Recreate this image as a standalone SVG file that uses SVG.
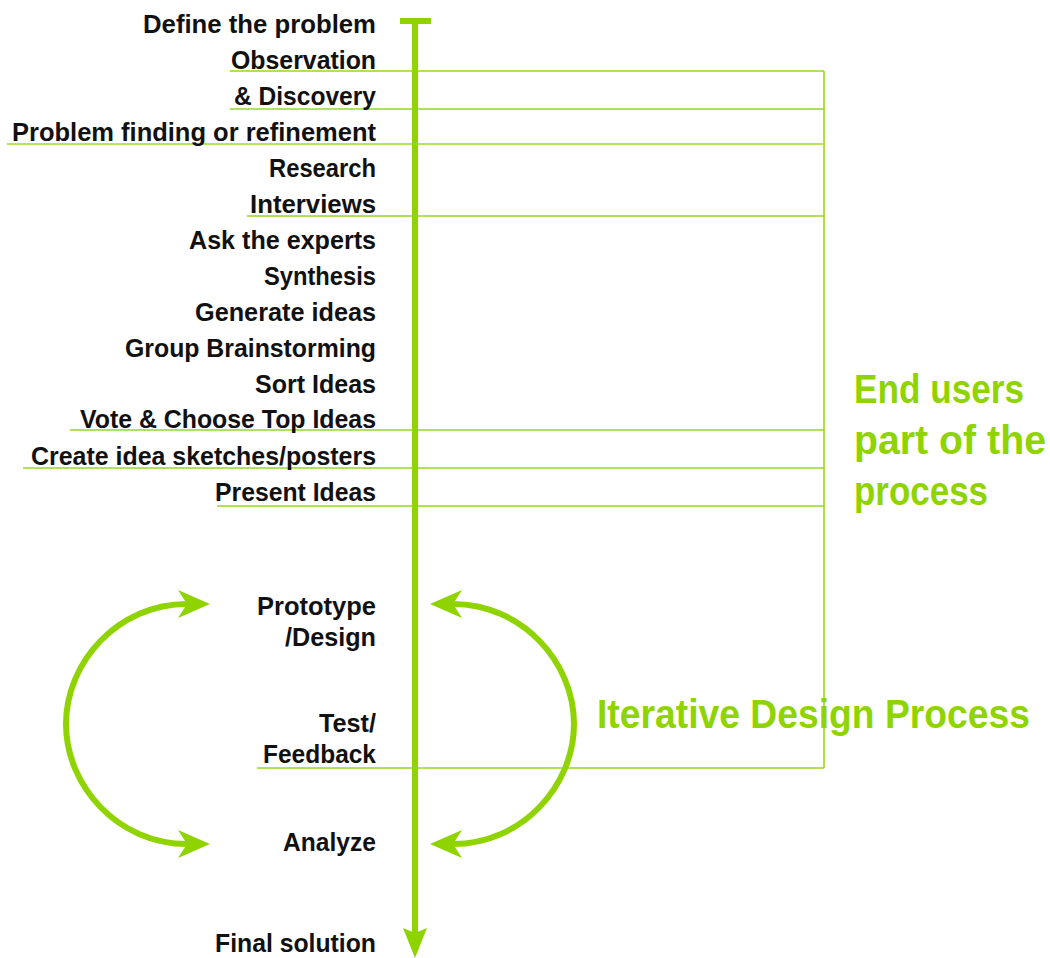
<svg xmlns="http://www.w3.org/2000/svg" width="1050" height="958" viewBox="0 0 1050 958">
<style>
.lbl{font-family:"Liberation Sans",Arial,sans-serif;font-weight:bold;font-size:26px;fill:#111;text-anchor:end}
.big{font-family:"Liberation Sans",Arial,sans-serif;font-weight:bold;font-size:40px;fill:#8fd400}
.thin{stroke:#96d91c;stroke-width:1.6;fill:none}
.thick{stroke:#8fd400;stroke-width:6;fill:none}
</style>
<defs>
<marker id="ah" markerUnits="userSpaceOnUse" markerWidth="40" markerHeight="40" viewBox="-2 -16 40 32" refX="9" refY="0" orient="auto-start-reverse">
<path d="M0,-14 L32,0 L0,14 L9,0 Z" fill="#8fd400"/>
</marker>
<marker id="ahMain" markerUnits="userSpaceOnUse" markerWidth="40" markerHeight="40" viewBox="-2 -16 40 32" refX="5" refY="0" orient="auto">
<path d="M0,-12 L30,0 L0,12 L5,0 Z" fill="#8fd400"/>
</marker>
</defs>
<g id="connectors">
<path class="thin" d="M824 71 V768"/>
<path class="thin" d="M230 71 H824"/>
<path class="thin" d="M230 109 H824"/>
<path class="thin" d="M7 144 H824" style="stroke:#b3e658;stroke-width:2.2"/>
<path class="thin" d="M247 216 H824"/>
<path class="thin" d="M70 430 H824"/>
<path class="thin" d="M23 468 H824"/>
<path class="thin" d="M217 506 H824"/>
<path class="thin" d="M257 768 H824"/>
<path class="thick" d="M400 21 H431"/>
<path class="thick" d="M415 21 V933" marker-end="url(#ahMain)"/>
<path class="thick" d="M187 604 C118 604 66 662 66 724 C66 786 118 844 187 844" marker-start="url(#ah)" marker-end="url(#ah)"/>
<path class="thick" d="M453 604 C522 604 574 662 574 724 C574 786 522 844 453 844" marker-start="url(#ah)" marker-end="url(#ah)"/>
</g>
<g id="n-define"><text class="lbl" x="376" y="33" textLength="233" lengthAdjust="spacingAndGlyphs">Define the problem</text></g>
<g id="n-observation"><text class="lbl" x="376" y="69" textLength="145" lengthAdjust="spacingAndGlyphs">Observation</text></g>
<g id="n-discovery"><text class="lbl" x="376" y="105" textLength="142" lengthAdjust="spacingAndGlyphs">&amp; Discovery</text></g>
<g id="n-problem"><text class="lbl" x="376" y="141" textLength="364" lengthAdjust="spacingAndGlyphs">Problem finding or refinement</text></g>
<g id="n-research"><text class="lbl" x="376" y="177" textLength="107" lengthAdjust="spacingAndGlyphs">Research</text></g>
<g id="n-interviews"><text class="lbl" x="376" y="213" textLength="126" lengthAdjust="spacingAndGlyphs">Interviews</text></g>
<g id="n-experts"><text class="lbl" x="376" y="249" textLength="187" lengthAdjust="spacingAndGlyphs">Ask the experts</text></g>
<g id="n-synthesis"><text class="lbl" x="376" y="285" textLength="112" lengthAdjust="spacingAndGlyphs">Synthesis</text></g>
<g id="n-generate"><text class="lbl" x="376" y="321" textLength="181" lengthAdjust="spacingAndGlyphs">Generate ideas</text></g>
<g id="n-group"><text class="lbl" x="376" y="357" textLength="251" lengthAdjust="spacingAndGlyphs">Group Brainstorming</text></g>
<g id="n-sort"><text class="lbl" x="376" y="393" textLength="121" lengthAdjust="spacingAndGlyphs">Sort Ideas</text></g>
<g id="n-vote"><text class="lbl" x="376" y="428" textLength="296" lengthAdjust="spacingAndGlyphs">Vote &amp; Choose Top Ideas</text></g>
<g id="n-create"><text class="lbl" x="376" y="465" textLength="345" lengthAdjust="spacingAndGlyphs">Create idea sketches/posters</text></g>
<g id="n-present"><text class="lbl" x="376" y="501" textLength="161" lengthAdjust="spacingAndGlyphs">Present Ideas</text></g>
<g id="n-prototype"><text class="lbl" x="376" y="615" textLength="119" lengthAdjust="spacingAndGlyphs">Prototype</text><text class="lbl" x="376" y="646" textLength="91" lengthAdjust="spacingAndGlyphs">/Design</text></g>
<g id="n-test"><text class="lbl" x="376" y="732" textLength="57" lengthAdjust="spacingAndGlyphs">Test/</text><text class="lbl" x="376" y="763" textLength="113" lengthAdjust="spacingAndGlyphs">Feedback</text></g>
<g id="n-analyze"><text class="lbl" x="376" y="851" textLength="93" lengthAdjust="spacingAndGlyphs">Analyze</text></g>
<g id="n-final"><text class="lbl" x="376" y="952" textLength="161" lengthAdjust="spacingAndGlyphs">Final solution</text></g>
<g id="n-endusers"><text class="big" x="854" y="403" textLength="170" lengthAdjust="spacingAndGlyphs">End users</text><text class="big" x="854" y="454" textLength="192" lengthAdjust="spacingAndGlyphs">part of the</text><text class="big" x="854" y="505" textLength="134" lengthAdjust="spacingAndGlyphs">process</text></g>
<g id="n-iterative"><text class="big" x="597" y="728" textLength="433" lengthAdjust="spacingAndGlyphs">Iterative Design Process</text></g>
</svg>
